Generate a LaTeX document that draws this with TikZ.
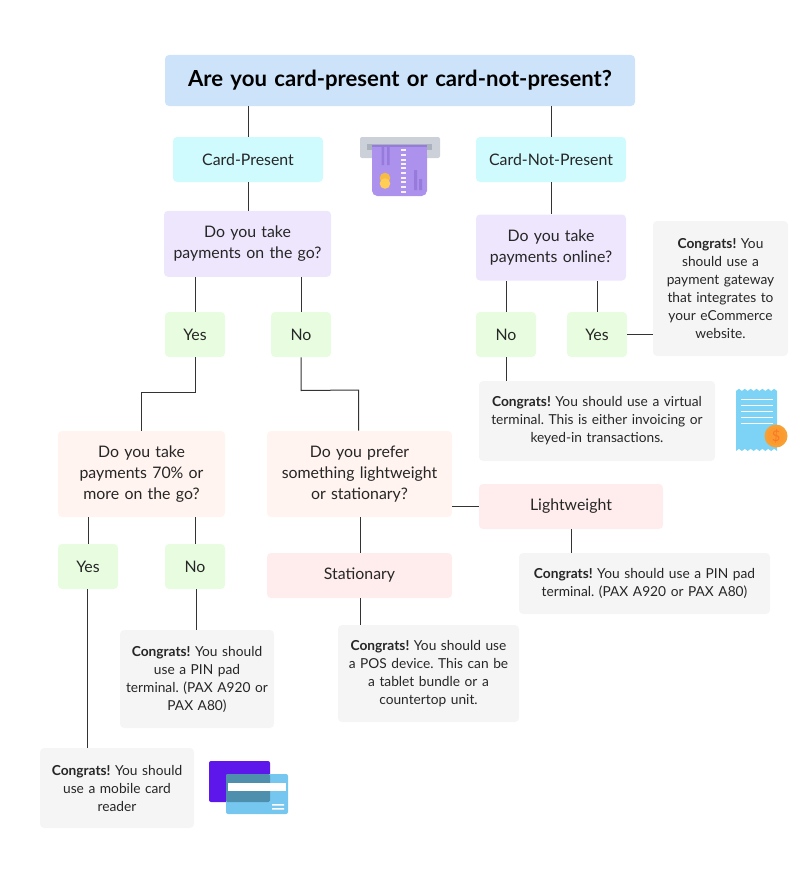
\documentclass[tikz,border=0pt]{standalone}
\usepackage{fontspec}
\setmainfont{Lato}
\frenchspacing
\definecolor{ctitle}{HTML}{CCE3FA}
\definecolor{ccyan}{HTML}{CFFBFE}
\definecolor{cpurple}{HTML}{EEE6FD}
\definecolor{cgreen}{HTML}{E8FDE0}
\definecolor{cpeach}{HTML}{FFF4EF}
\definecolor{cpink}{HTML}{FFEDED}
\definecolor{cgrey}{HTML}{F5F5F5}
\definecolor{ctext}{HTML}{262626}
\definecolor{slot}{HTML}{CCD1D9}
\definecolor{slotd}{HTML}{AAB2BD}
\definecolor{cardp}{HTML}{AC92EC}
\definecolor{cardd}{HTML}{967ADC}
\definecolor{coina}{HTML}{F6BB42}
\definecolor{coinb}{HTML}{FFCE54}
\definecolor{rblue}{HTML}{7DD3F5}
\definecolor{coino}{HTML}{F7A035}
\definecolor{coini}{HTML}{FB9B2F}
\definecolor{lblue}{HTML}{76C7F0}
\definecolor{cardv}{HTML}{5E17EB}
\definecolor{overlap}{HTML}{4F8FAE}
\tikzset{
  base/.style={inner sep=2pt,rounded corners=3pt,align=center,text=ctext,font=\fontsize{11.9}{15.8}\selectfont},
  sz/.style 2 args={minimum width=#1*0.75pt,minimum height=#2*0.75pt,text width=#1*0.75pt-6pt},
  titlebox/.style={base,fill=ctitle,font=\fontsize{16.6}{18}\selectfont\bfseries,text=black},
  cyanbox/.style={base,fill=ccyan},
  purplebox/.style={base,fill=cpurple},
  greenbox/.style={base,fill=cgreen},
  peachbox/.style={base,fill=cpeach},
  pinkbox/.style={base,fill=cpink},
  greybox/.style={base,fill=cgrey,font=\fontsize{10.3}{13.5}\selectfont},
  link/.style={draw=black!80,line width=0.75pt},
}
\begin{document}
\begin{tikzpicture}[x=0.75pt,y=-0.75pt]
\useasboundingbox (0,0) rectangle (800,881);
\node[titlebox,sz={470}{51}] (title) at (400,80.5) {Are you card-present or card-not-present?};
\node[cyanbox,sz={150}{45}] (cp) at (248,159.5) {Card-Present};
\node[cyanbox,sz={150}{45}] (cnp) at (551,159.5) {Card-Not-Present};
\node[purplebox,sz={167}{66}] (go) at (247.5,243.8) {Do you take\\payments on the go?};
\node[purplebox,sz={150}{66}] (online) at (551,247.5) {Do you take\\payments online?};
\node[greenbox,sz={60}{45}] (yes1) at (195,334.5) {Yes};
\node[greenbox,sz={60}{45}] (no1) at (301,334.5) {No};
\node[greenbox,sz={60}{45}] (no2) at (506,334.5) {No};
\node[greenbox,sz={60}{45}] (yes2) at (597,334.5) {Yes};
\node[peachbox,sz={167}{86}] (seventy) at (141.5,474) {Do you take\\payments 70\% or\\more on the go?};
\node[peachbox,sz={185}{86}] (prefer) at (359.5,474) {Do you prefer\\something lightweight\\or stationary?};
\node[greenbox,sz={60}{45}] (yes3) at (88,566.5) {Yes};
\node[greenbox,sz={60}{45}] (no3) at (195,566.5) {No};
\node[pinkbox,sz={184}{45}] (light) at (571,506.5) {Lightweight};
\node[pinkbox,sz={185}{45}] (stat) at (359.5,575.5) {Stationary};
\node[greybox,sz={135}{135}] (gateway) at (720.5,288.5) {\textbf{Congrats!} You\\should use a\\payment gateway\\that integrates to\\your eCommerce\\website.};
\node[greybox,sz={236}{80}] (virtual) at (597,421) {\textbf{Congrats!} You should use a virtual\\terminal. This is either invoicing or\\keyed-in transactions.};
\node[greybox,sz={251}{61}] (pinr) at (644.5,583.5) {\textbf{Congrats!} You should use a PIN pad\\terminal. (PAX A920 or PAX A80)};
\node[greybox,sz={181}{97}] (pos) at (428.5,673.5) {\textbf{Congrats!} You should use\\a POS device. This can be\\a tablet bundle or a\\countertop unit.};
\node[greybox,sz={154}{98}] (pinl) at (197,679) {\textbf{Congrats!} You should\\use a PIN pad\\terminal. (PAX A920 or\\PAX A80)};
\node[greybox,sz={154}{80}] (mobile) at (117,788) {\textbf{Congrats!} You should\\use a mobile card\\reader};
% connectors
\draw[link] (cp.north) -- (cp.north |- title.south);
\draw[link] (cnp.north) -- (cnp.north |- title.south);
\draw[link] (cp.south) -- (cp.south |- go.north);
\draw[link] (cnp.south) -- (cnp.south |- online.north);
\draw[link] (yes1.north) -- (yes1.north |- go.south);
\draw[link] (no1.north) -- (no1.north |- go.south);
\draw[link] (no2.north) -- (no2.north |- online.south);
\draw[link] (yes2.north) -- (yes2.north |- online.south);
\draw[link] (yes2.east) -- (gateway.west |- yes2.east);
\draw[link] (no2.south) -- (no2.south |- virtual.north);
\draw[link] (yes1.south) -- (195,392) -- (141,392) -- (141,392 |- seventy.north);
\draw[link] (no1.south) -- (301,390.5) -- (358.5,390) -- (358.5,390 |- prefer.north);
\draw[link] (yes3.north) -- (yes3.north |- seventy.south);
\draw[link] (no3.north) -- (no3.north |- seventy.south);
\coordinate (ya) at (87,589); \coordinate (yb) at (87,748);
\draw[link] (ya) -- (yb);
\coordinate (na) at (196,589); \coordinate (nb) at (196,630);
\draw[link] (na) -- (nb);
\draw[link] (stat.north -| 360,0) -- (360,517);
\draw[link] (prefer.east |- light.west) -- (light.west);
\draw[link] (light.south) -- (light.south |- pinr.north);
\draw[link] (360.5,598) -- (360.5,625);
% card machine icon
\fill[rounded corners=1.5pt,slot] (360,137) rectangle (440,158);
\fill[slotd] (367,144) rectangle (432,150);
\fill[cardp,rounded corners=4pt] (372,150) -- (372,196) -- (427,196) -- (427,150) -- cycle;
\fill[cardp] (372,144.5) rectangle (427,155);
\fill[cardd] (372,144.5) rectangle (427,146.5);
\fill[cardd] (381.5,147) rectangle (384,165) (387,147) rectangle (389.5,165);
\foreach \yy in {148.5,153.5,158.5,163,166.5,172,176.5,181,186,190.5}{\fill[white!88!cardp] (401,\yy) rectangle (406,\yy+2.4);}
\fill[cardd] (414,170) rectangle (417,190) (419,179) rectangle (422,190);
\fill[coina] (385,178) circle (5.3);
\fill[coinb] (385,183.5) circle (5.3);
% receipt icon
\fill[rblue] (736,391) \foreach \k in {0,1,...,6}{ -- ++(2.93,-2.2) -- ++(2.93,2.2)} -- ++(0,60)
  \foreach \k in {0,1,...,6}{ -- ++(-2.93,-2.2) -- ++(-2.93,2.2)} -- cycle;
\foreach \yy in {399.5,405.5,411.5,417.5,423.3}{\fill[white] (741,\yy-0.6) rectangle (773,\yy+0.6);}
\fill[coino] (776,436) circle (11.5);
\fill[coini] (776,436) circle (8.5);
\node[font=\fontsize{11}{11}\selectfont,text=coino!75!red,inner sep=0pt] (dollar) at (776,436) {\$};
% cards icon
\fill[rounded corners=1.5pt,cardv] (209,761) rectangle (270,802);
\fill[rounded corners=1.5pt,lblue] (226,774) rectangle (288,814);
\fill[overlap,rounded corners=1pt] (226,774) rectangle (270,802);
\fill[white] (228,783) rectangle (286,791);
\fill[white] (272,804) rectangle (284,805.5) (272,808) rectangle (284,809.5);
\end{tikzpicture}
\end{document}
